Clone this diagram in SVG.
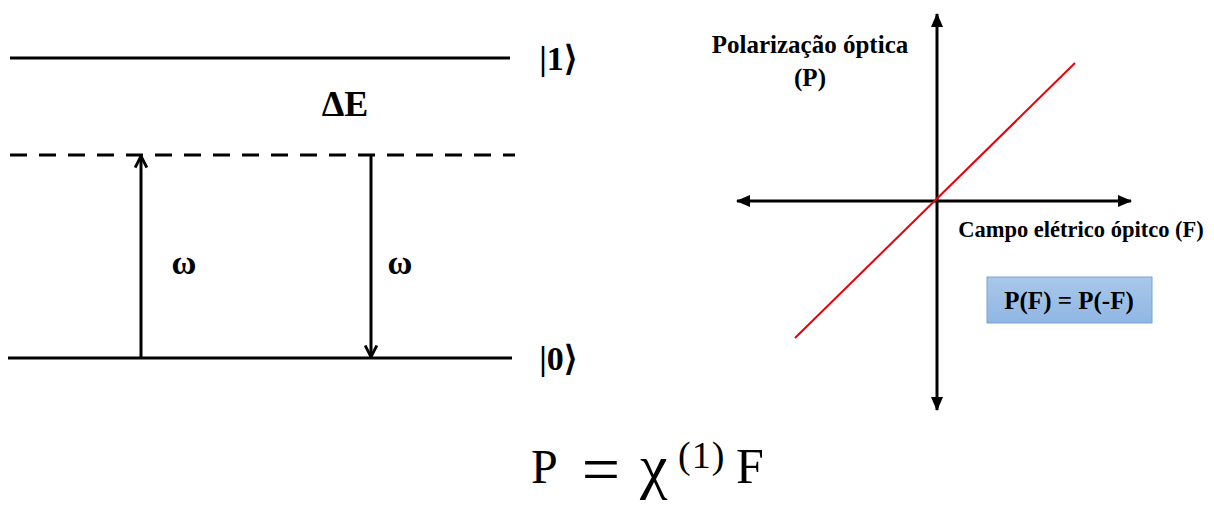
<svg xmlns="http://www.w3.org/2000/svg" width="1214" height="505" viewBox="0 0 1214 505">
<style>
.lv{stroke:#000;stroke-width:3;fill:none}
.ar{stroke:#000;stroke-width:3;fill:none}
.b{font-family:"Liberation Serif",serif;font-weight:bold;fill:#000}
.m{font-family:"Liberation Serif","DejaVu Serif",serif;fill:#000}
</style>
<defs>
<marker id="open" markerWidth="14" markerHeight="14" refX="12.5" refY="7" orient="auto-start-reverse" markerUnits="userSpaceOnUse" viewBox="0 0 14 14">
<path d="M1,1.2 L12.5,7 L1,12.8" stroke="#000" stroke-width="2.8" fill="none"/>
</marker>
<marker id="fill" markerWidth="14" markerHeight="14" refX="13" refY="7" orient="auto-start-reverse" markerUnits="userSpaceOnUse" viewBox="0 0 14 14">
<path d="M0,1 L14,7 L0,13 Z" fill="#000"/>
</marker>
<linearGradient id="bg" x1="0" y1="0" x2="0" y2="1">
<stop offset="0" stop-color="#a9c8ea"/>
<stop offset="1" stop-color="#8fb6e3"/>
</linearGradient>
</defs>
<g id="levels">
<line class="lv" x1="10" y1="58" x2="510" y2="58"/>
<line class="lv" x1="10" y1="155" x2="515" y2="155" stroke-dasharray="17,12"/>
<line class="lv" x1="8" y1="358" x2="512" y2="358"/>
</g>
<g id="connectors">
<line class="ar" x1="141" y1="358" x2="141" y2="156" marker-end="url(#open)"/>
<line class="ar" x1="371" y1="155" x2="371" y2="357" marker-end="url(#open)"/>
<line x1="937" y1="410" x2="937" y2="14" stroke="#000" stroke-width="3" marker-start="url(#fill)" marker-end="url(#fill)"/>
<line x1="737" y1="201" x2="1131" y2="201" stroke="#000" stroke-width="3" marker-start="url(#fill)" marker-end="url(#fill)"/>
<line x1="795" y1="338" x2="1075" y2="63" stroke="#e8000b" stroke-width="2"/>
</g>
<g id="labels">
<text class="b" x="558" y="70" font-size="34" text-anchor="middle" font-weight="normal">|<tspan font-weight="bold">1</tspan>⟩</text>
<text class="b" x="558" y="370" font-size="34" text-anchor="middle" font-weight="normal">|<tspan font-weight="bold">0</tspan>⟩</text>
<text class="b" x="345" y="116" font-size="36" text-anchor="middle">ΔE</text>
<text class="b" x="184" y="274" font-size="34" text-anchor="middle">ω</text>
<text class="b" x="400" y="274" font-size="34" text-anchor="middle">ω</text>
<text class="b" x="810" y="53" font-size="25" text-anchor="middle">Polarização óptica</text>
<text class="b" x="810" y="86" font-size="25" text-anchor="middle">(P)</text>
<text class="b" x="1081" y="237" font-size="22.5" text-anchor="middle">Campo elétrico ópitco (F)</text>
</g>
<g id="box">
<rect x="987" y="277" width="165" height="46" fill="url(#bg)" stroke="#7aa3d4" stroke-width="1"/>
<text class="b" x="1069" y="309" font-size="25" text-anchor="middle">P(F) = P(-F)</text>
</g>
<g id="equation">
<text class="m" x="531" y="483" font-size="48">P</text>
<text class="m" x="601" y="492" font-size="68" text-anchor="middle">=</text>
<text class="m" x="640" y="487" font-size="62">χ</text>
<text class="m" x="678" y="468" font-size="38" letter-spacing="1">(1)</text>
<text class="m" x="736" y="483" font-size="50">F</text>
</g>
</svg>
